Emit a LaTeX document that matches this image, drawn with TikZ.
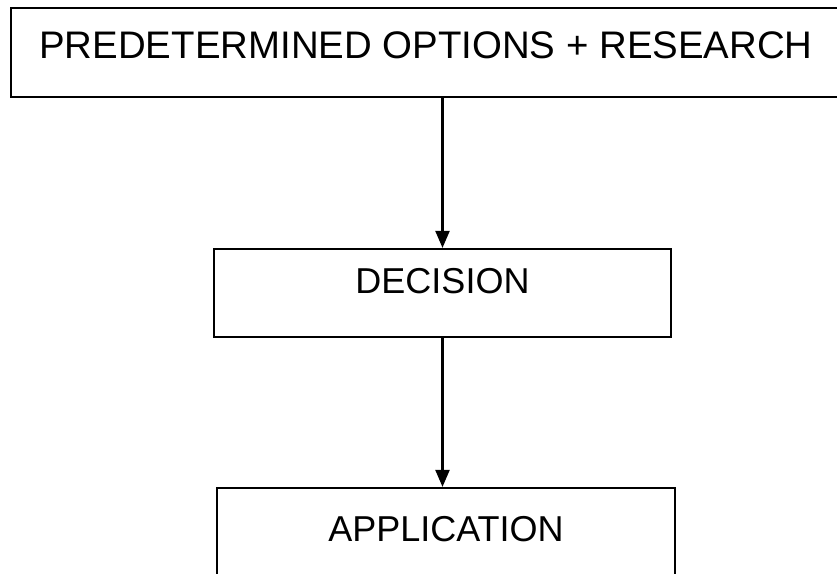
\documentclass[tikz,border=0pt]{standalone}
\usepackage{fontspec}
\setmainfont{Liberation Sans}
\usetikzlibrary{positioning,arrows.meta}

\tikzset{
    box/.style={draw, line width=2.2pt, inner sep=0pt, font=\fontsize{36}{40}\selectfont},
    boxh/.style 2 args={text height=#1, text depth=#2},
    flow/.style={line width=2.2pt, -{Triangle[length=17pt,width=14pt]}}
}

\begin{document}
\begin{tikzpicture}[x=1pt,y=-1pt]
    \useasboundingbox (0,0) rectangle (837,573);
    \clip (0,0) rectangle (837,573);
    \fill[white] (0,0) rectangle (837,573);

    % boxes
    \node[box, boxh={50pt}{39pt}, minimum width=830pt, font=\fontsize{38.4}{42}\selectfont] (options) at (426,52.5) {PREDETERMINED OPTIONS + RESEARCH};
    \node[box, boxh={44pt}{44pt}, minimum width=457pt] (decision) at (442.5,293) {DECISION};
    \node[box, boxh={53pt}{53pt}, minimum width=458pt] (application) at (446,541) {APPLICATION};

    % top to bottom arrows
    \draw [flow] (options.south -| decision.north) -- (decision.north);
    \draw [flow] (decision.south) -- (application.north -| decision.south);
\end{tikzpicture}
\end{document}
